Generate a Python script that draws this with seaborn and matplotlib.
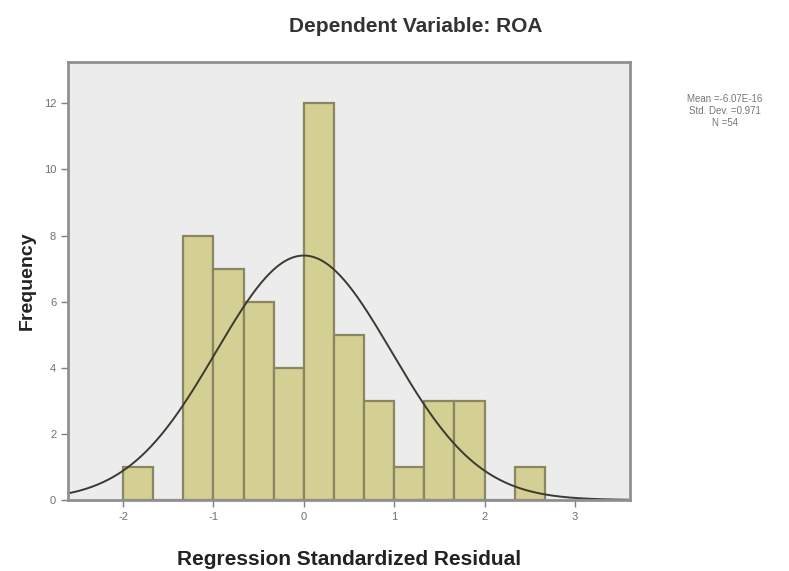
import numpy as np
import pandas as pd
import matplotlib
matplotlib.use("Agg")
import matplotlib.pyplot as plt
import seaborn as sns

# Histogram of standardized residuals (bin width 1/3)
bin_edges = [-2 + i / 3 for i in range(15)]
bin_counts = [1, 0, 8, 7, 6, 4, 12, 5, 3, 1, 3, 3, 0, 1]

# Summary statistics shown in the legend box
resid_mean = -6.07e-16
resid_sd = 0.971
n_cases = 54

title_text = "Dependent Variable: ROA"
x_label = "Regression Standardized Residual"
y_label = "Frequency"
x_ticks = [-2, -1, 0, 1, 2, 3]
y_ticks = [0, 2, 4, 6, 8, 10, 12]

sns.set_theme(style="white")
plt.rcParams["font.family"] = ["Liberation Sans", "DejaVu Sans"]
plt.rcParams["axes.unicode_minus"] = False

centers = [(bin_edges[i] + bin_edges[i + 1]) / 2 for i in range(len(bin_counts))]
df = pd.DataFrame({"resid": centers, "count": bin_counts})

fig = plt.figure(figsize=(7.89, 5.71), dpi=100)
ax = fig.add_axes([68 / 789, 1 - 500 / 571, (630 - 68) / 789, (500 - 62) / 571])
ax.set_facecolor("#ececec")

sns.histplot(data=df, x="resid", weights="count", bins=bin_edges, ax=ax,
             color="#d4cf93", alpha=1.0, edgecolor="#8a8660", linewidth=1.6)

# Normal curve scaled to the histogram
width = bin_edges[1] - bin_edges[0]
xs = np.linspace(-2.61, 3.61, 400)
ys = n_cases * width / (resid_sd * np.sqrt(2 * np.pi)) * np.exp(-0.5 * ((xs - resid_mean) / resid_sd) ** 2)
sns.lineplot(x=xs, y=ys, ax=ax, color="#3a3a30", linewidth=1.4)

ax.set_xlim(-2.61, 3.61)
ax.set_ylim(0, 13.25)
ax.set_xticks(x_ticks)
ax.set_yticks(y_ticks)
ax.tick_params(axis="both", which="both", direction="out", length=5, width=1,
               color="#808080", labelsize=8, labelcolor="#707070")
ax.tick_params(axis="both", bottom=True, left=True)
for s in ax.spines.values():
    s.set_color("#909090")
    s.set_linewidth(2)

ax.set_xlabel(x_label, fontsize=15, fontweight="bold", color="#222222", labelpad=20)
ax.set_ylabel(y_label, fontsize=14, fontweight="bold", color="#222222")
ax.yaxis.set_label_coords(-0.058, 0.5)

fig.text(416 / 789, 1 - 26 / 571, title_text, ha="center", va="center",
         fontsize=15, fontweight="bold", color="#333333")

legend_text = f"Mean ={resid_mean:.2E}\nStd. Dev. ={resid_sd:.3f}\nN ={n_cases}"
fig.text(725 / 789, 1 - 111 / 571, legend_text, ha="center", va="center",
         fontsize=7, color="#777777", linespacing=1.3)

fig.savefig("out.png", dpi=100)
